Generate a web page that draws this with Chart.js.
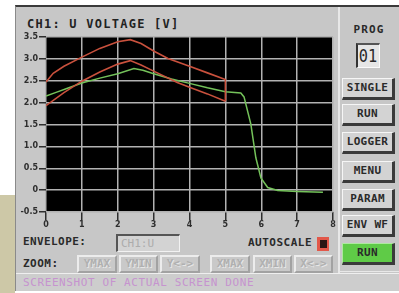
<!DOCTYPE html>
<html>
<head>
<meta charset="utf-8">
<script src="https://cdn.jsdelivr.net/npm/chart.js@4"></script>
<style>
  html,body{margin:0;padding:0;background:#fff;}
  body{width:399px;height:293px;position:relative;overflow:hidden;font-family:"DejaVu Sans Mono",monospace;}
  .abs{position:absolute;}
  #beige{left:0;top:195px;width:15px;height:98px;background:#cdc8a7;}
  #frame{left:15px;top:5px;width:384px;height:286px;background:#c7c7c7;border-top:2px solid #3a3a3a;border-left:1px solid #8a8a8a;box-sizing:border-box;}
  .txt{font-weight:bold;color:#2a2a2a;white-space:nowrap;}
  .btn{position:absolute;left:342px;width:53px;height:22px;box-sizing:border-box;background:#d3d3d3;
       border-top:1px solid #f6f6f6;border-left:1px solid #f6f6f6;border-bottom:3px solid #3a3a3a;border-right:3px solid #3a3a3a;
       font:bold 11px "DejaVu Sans Mono",monospace;color:#2a2a2a;text-align:center;line-height:18px;letter-spacing:0.3px;}
  .dbtn{position:absolute;top:255px;height:18px;box-sizing:border-box;background:#c9c9c9;
       border-top:2px solid #ececec;border-left:2px solid #ececec;border-bottom:2px solid #a2a2a2;border-right:2px solid #a2a2a2;
       font:bold 11px "DejaVu Sans Mono",monospace;color:#b0b0b0;text-shadow:1px 1px 0 #e6e6e6;text-align:center;line-height:14px;}
</style>
</head>
<body>
<div id="beige" class="abs"></div>
<div id="frame" class="abs"></div>

<div class="abs txt" style="left:27px;top:17px;font-size:12px;line-height:14px;letter-spacing:1.25px;color:#222;">CH1: U VOLTAGE [V]</div>

<div class="abs" style="left:15px;top:30px;width:323px;height:202px;">
  <canvas id="c" width="323" height="202"></canvas>
</div>

<!-- right panel -->
<div class="abs" style="left:338px;top:7px;width:2px;height:266px;background:#e8e8e8;"></div>
<div class="abs" style="left:340px;top:271px;width:59px;height:1px;background:#e8e8e8;"></div>
<div class="abs txt" style="left:339px;top:23px;width:60px;text-align:center;font-size:11px;line-height:14px;letter-spacing:1.1px;">PROG</div>
<div class="abs" style="left:356px;top:43px;width:24px;height:25px;box-sizing:border-box;background:#e6e6e6;border-left:2px solid #333;border-top:2px solid #555;border-right:1px solid #fafafa;border-bottom:1px solid #fafafa;"></div>
<div class="abs" style="left:356px;top:43px;width:24px;height:25px;text-align:center;font:18px 'DejaVu Sans Mono',monospace;line-height:26px;color:#2a2a2a;transform:scaleX(0.85);">01</div>

<div class="btn" style="top:78px;">SINGLE</div>
<div class="btn" style="top:104px;">RUN</div>
<div class="btn" style="top:132px;">LOGGER</div>
<div class="btn" style="top:161px;">MENU</div>
<div class="btn" style="top:189px;">PARAM</div>
<div class="btn" style="top:215px;">ENV WF</div>
<div class="btn" style="top:243px;background:#5fcb47;border-top:1px solid #aee8a0;border-left:1px solid #aee8a0;">RUN</div>

<!-- bottom controls -->
<div class="abs txt" style="left:23px;top:235px;font-size:11px;line-height:14px;letter-spacing:0.4px;">ENVELOPE:</div>
<div class="abs" style="left:116px;top:234px;width:64px;height:18px;box-sizing:border-box;background:#d3d3d3;border-top:2px solid #555;border-left:2px solid #555;border-bottom:1px solid #f2f2f2;border-right:1px solid #f2f2f2;font:11px 'DejaVu Sans Mono',monospace;color:#acacac;line-height:15px;padding-left:3px;">CH1:U</div>
<div class="abs txt" style="left:248px;top:236px;font-size:11px;line-height:14px;letter-spacing:0.5px;">AUTOSCALE</div>
<div class="abs" style="left:317px;top:237px;width:12px;height:14px;background:#e2584a;"></div>
<div class="abs" style="left:320px;top:240px;width:7px;height:8px;background:#2a1614;"></div>

<div class="abs txt" style="left:23px;top:257px;font-size:11px;line-height:14px;letter-spacing:0.5px;">ZOOM:</div>
<div class="dbtn" style="left:77px;width:40px;">YMAX</div>
<div class="dbtn" style="left:119px;width:39px;">YMIN</div>
<div class="dbtn" style="left:160px;width:40px;">Y&lt;-&gt;</div>
<div class="dbtn" style="left:210px;width:40px;">XMAX</div>
<div class="dbtn" style="left:253px;width:39px;">XMIN</div>
<div class="dbtn" style="left:294px;width:39px;">X&lt;-&gt;</div>

<div class="abs" style="left:16px;top:273px;width:383px;height:18px;background:#cdcdcd;border-top:1px solid #efefef;box-sizing:border-box;"></div>
<div class="abs" style="left:23px;top:276px;font:11px 'DejaVu Sans Mono',monospace;letter-spacing:0.6px;color:#c693cf;line-height:14px;white-space:nowrap;">SCREENSHOT OF ACTUAL SCREEN DONE</div>

<script>
// ---- data ----
const upperX = [0, 0.2, 0.5, 1.0, 1.5, 2.0, 2.35, 2.65, 3.0, 3.4, 4.0, 4.5, 5.0, 5.0];
const upperV = [2.47, 2.67, 2.83, 3.04, 3.24, 3.39, 3.44, 3.35, 3.18, 3.01, 2.83, 2.68, 2.53, 2.03];

const lowerX = [0, 0.5, 1.0, 1.5, 2.0, 2.35, 2.65, 3.0, 3.66, 4.0, 4.5, 5.0];
const lowerV = [1.93, 2.23, 2.49, 2.70, 2.88, 2.96, 2.86, 2.72, 2.46, 2.35, 2.20, 2.03];

const measX = [0, 0.3, 0.6, 1.0, 1.5, 2.0, 2.45, 2.7, 3.0, 3.5, 4.0, 4.5, 5.0, 5.43, 5.52, 5.71, 5.85, 5.99, 6.18, 6.46, 7.0, 7.72];
const measV = [2.15, 2.24, 2.33, 2.45, 2.56, 2.66, 2.78, 2.74, 2.66, 2.54, 2.44, 2.34, 2.25, 2.22, 2.13, 1.51, 0.74, 0.28, 0.06, -0.01, -0.03, -0.05];

const xTicks = [0, 1, 2, 3, 4, 5, 6, 7, 8];
const yTicks = [-0.5, 0, 0.5, 1.0, 1.5, 2.0, 2.5, 3.0, 3.5];
const yTickLabels = ['-0.5', '0', '0.5', '1.0', '1.5', '2.0', '2.5', '3.0', '3.5'];

const toPts = (xs, vs) => xs.map((x, i) => ({x: x, y: vs[i]}));

const bgPlugin = {
  id: 'blackArea',
  beforeDraw(chart) {
    const a = chart.chartArea, ctx = chart.ctx;
    ctx.save();
    ctx.fillStyle = '#000';
    ctx.fillRect(a.left, a.top, a.right - a.left, a.bottom - a.top);
    ctx.restore();
  }
};

const tickFont = {family: 'DejaVu Sans', size: 8, weight: 'bold'};

new Chart(document.getElementById('c'), {
  type: 'line',
  data: {
    datasets: [
      {data: toPts(upperX, upperV), borderColor: '#c9513d', borderWidth: 1.6},
      {data: toPts(lowerX, lowerV), borderColor: '#c9513d', borderWidth: 1.6},
      {data: toPts(measX, measV), borderColor: '#74c25a', borderWidth: 1.5}
    ]
  },
  options: {
    responsive: false,
    animation: false,
    devicePixelRatio: 1,
    layout: {padding: {top: 7, right: 5, left: 0, bottom: 0}},
    elements: {point: {radius: 0}, line: {tension: 0}},
    plugins: {legend: {display: false}, tooltip: {enabled: false}},
    scales: {
      x: {
        type: 'linear', min: 0, max: 8,
        afterBuildTicks: s => { s.ticks = xTicks.map(v => ({value: v})); },
        afterFit: s => { s.height = 20; },
        grid: {color: '#b2b2b2', lineWidth: 1.5, tickColor: '#2e2e2e', tickLength: 8, drawTicks: true},
        border: {display: false},
        ticks: {color: '#2e2e2e', font: tickFont, padding: 0, maxRotation: 0,
                callback: v => String(v)}
      },
      y: {
        type: 'linear', min: -0.5, max: 3.5,
        afterBuildTicks: s => { s.ticks = yTicks.map(v => ({value: v})); },
        afterFit: s => { s.width = 31; },
        grid: {color: '#b2b2b2', lineWidth: 1.5, tickColor: '#2e2e2e', tickLength: 7, drawTicks: true},
        border: {display: false},
        ticks: {color: '#2e2e2e', font: tickFont, padding: 1,
                callback: v => { const i = yTicks.indexOf(v); return i >= 0 ? yTickLabels[i] : ''; }}
      }
    }
  },
  plugins: [bgPlugin]
});
</script>
</body>
</html>
